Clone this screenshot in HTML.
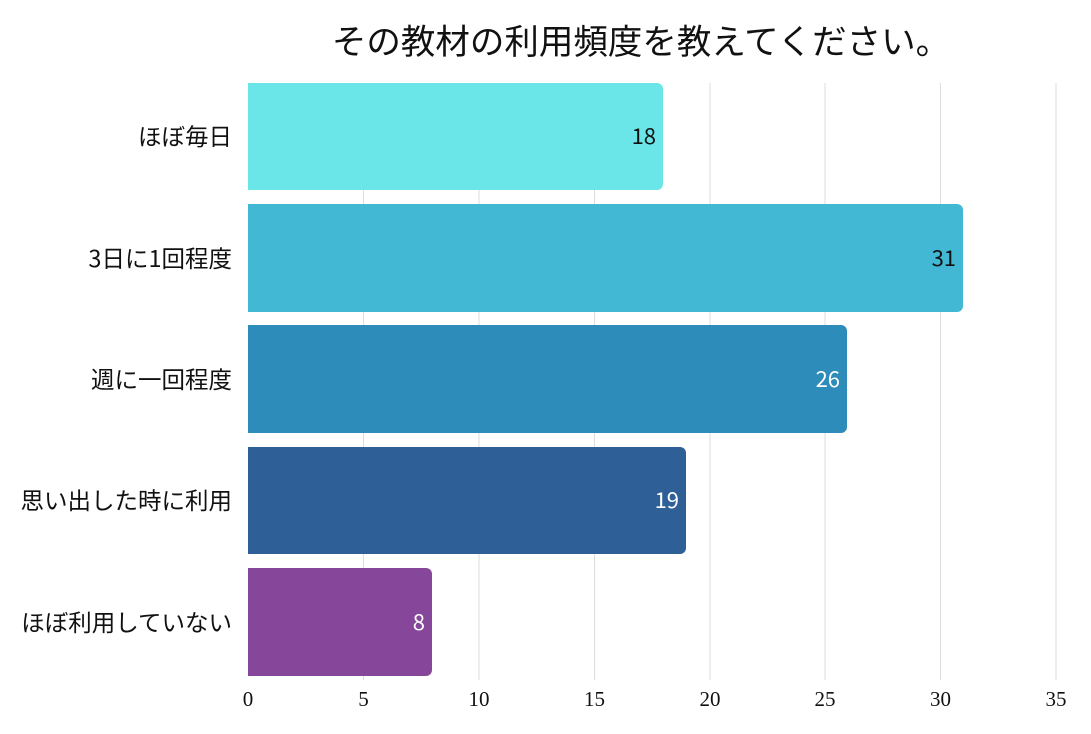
<!DOCTYPE html>
<html><head><meta charset="utf-8"><style>
body{margin:0;background:#fff;width:1091px;height:729px;overflow:hidden}
</style></head><body>
<svg width="1091" height="729" xmlns="http://www.w3.org/2000/svg">
<text x="641" y="54" text-anchor="middle" font-family="Noto Sans CJK JP, sans-serif" font-size="34.5" font-weight="400" fill="#111">その教材の利用頻度を教えてください。</text>
<g stroke="#dddddd" stroke-width="1">
<line x1="363.5" y1="83" x2="363.5" y2="680"/>
<line x1="479" y1="83" x2="479" y2="680"/>
<line x1="594.5" y1="83" x2="594.5" y2="680"/>
<line x1="710" y1="83" x2="710" y2="680"/>
<line x1="825" y1="83" x2="825" y2="680"/>
<line x1="940.5" y1="83" x2="940.5" y2="680"/>
<line x1="1056" y1="83" x2="1056" y2="680"/>
</g>
<g>
<path d="M248 83 H657 a6 6 0 0 1 6 6 V184 a6 6 0 0 1 -6 6 H248Z" fill="#6ae6e8"/>
<path d="M248 204 H957 a6 6 0 0 1 6 6 V306 a6 6 0 0 1 -6 6 H248Z" fill="#42b8d5"/>
<path d="M248 325 H841 a6 6 0 0 1 6 6 V427 a6 6 0 0 1 -6 6 H248Z" fill="#2e8cba"/>
<path d="M248 447 H680 a6 6 0 0 1 6 6 V548 a6 6 0 0 1 -6 6 H248Z" fill="#2e5f97"/>
<path d="M248 568 H426 a6 6 0 0 1 6 6 V670 a6 6 0 0 1 -6 6 H248Z" fill="#86479a"/>
</g>
<g font-family="Noto Sans CJK JP, sans-serif" font-size="22" text-anchor="end">
<text x="656" y="144" fill="#111">18</text>
<text x="956" y="266" fill="#111">31</text>
<text x="840" y="387" fill="#fff">26</text>
<text x="679" y="508" fill="#fff">19</text>
<text x="425" y="630" fill="#fff">8</text>
</g>
<g font-family="Noto Sans CJK JP, sans-serif" font-size="23.5" text-anchor="end" fill="#111">
<text x="232" y="145">ほぼ毎日</text>
<text x="232" y="267">3日に1回程度</text>
<text x="232" y="388">週に一回程度</text>
<text x="232" y="509">思い出した時に利用</text>
<text x="232" y="631">ほぼ利用していない</text>
</g>
<g font-family="Liberation Serif, serif" font-size="21" text-anchor="middle" fill="#111">
<text x="248" y="706">0</text>
<text x="363.5" y="706">5</text>
<text x="479" y="706">10</text>
<text x="594.5" y="706">15</text>
<text x="710" y="706">20</text>
<text x="825" y="706">25</text>
<text x="940.5" y="706">30</text>
<text x="1056" y="706">35</text>
</g>
</svg>
</body></html>
